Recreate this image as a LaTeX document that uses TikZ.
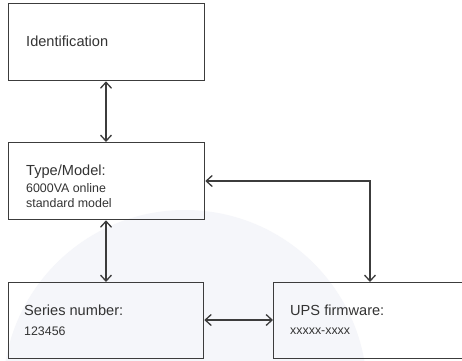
\documentclass[tikz,border=0pt]{standalone}
\usepackage{fontspec}
\setmainfont{Liberation Sans}
\usetikzlibrary{arrows.meta}
\definecolor{linegray}{HTML}{3C3C3C}
\definecolor{textgray}{HTML}{333333}
\definecolor{wm}{HTML}{F5F6FA}
\tikzset{
  boxnode/.style={draw=linegray, line width=1.3pt, rectangle, inner sep=0pt, anchor=north west},
  headtext/.style={anchor=base west, inner sep=0pt, text=textgray, font=\fontsize{14.6}{16}\selectfont},
  valtext/.style={anchor=base west, inner sep=0pt, text=textgray, font=\fontsize{12.4}{14}\selectfont},
  link/.style={draw=linegray, line width=1.3pt, {Straight Barb[length=6pt,width=11pt]}-{Straight Barb[length=6pt,width=11pt]}}
}
\begin{document}
\begin{tikzpicture}[x=1pt,y=-1pt]
\useasboundingbox (0,0) rectangle (462,360);
\fill[white] (0,0) rectangle (462,360);
\begin{scope}
\clip (0,0) rectangle (462,360);
\fill[wm] (185,392) circle (182);
\node[boxnode, minimum width=196pt, minimum height=77pt] (ident) at (8,3) {};
\node[boxnode, minimum width=196pt, minimum height=77pt] (type) at (8,142) {};
\node[boxnode, minimum width=195pt, minimum height=76pt] (series) at (8,282) {};
\node[boxnode, minimum width=220pt, minimum height=76pt] (ups) at (273,282) {};
\end{scope}
\node[headtext] (identt) at (26,46) {Identification};
\node[headtext] (typet) at (26,175) {Type/Model:};
\node[valtext] (typev1) at (26,192) {6000VA online};
\node[valtext] (typev2) at (26,207) {standard model};
\node[headtext] (seriest) at (24,315.5) {Series number:};
\node[valtext] (seriesv) at (24,335) {123456};
\node[headtext] (upst) at (290,315.5) {UPS firmware:};
\node[valtext] (upsv) at (290,334) {xxxxx-xxxx};
\coordinate (corner) at (370,181);
\draw[link] (ident.south -| 106,0) -- (type.north -| 106,0);
\draw[link] (type.south -| 106,0) -- (series.north -| 106,0);
\draw[link] (type.east |- corner) -- (corner) -- (ups.north -| corner);
\draw[link] (series.east |- 0,320) -- (ups.west |- 0,320);
\end{tikzpicture}
\end{document}
